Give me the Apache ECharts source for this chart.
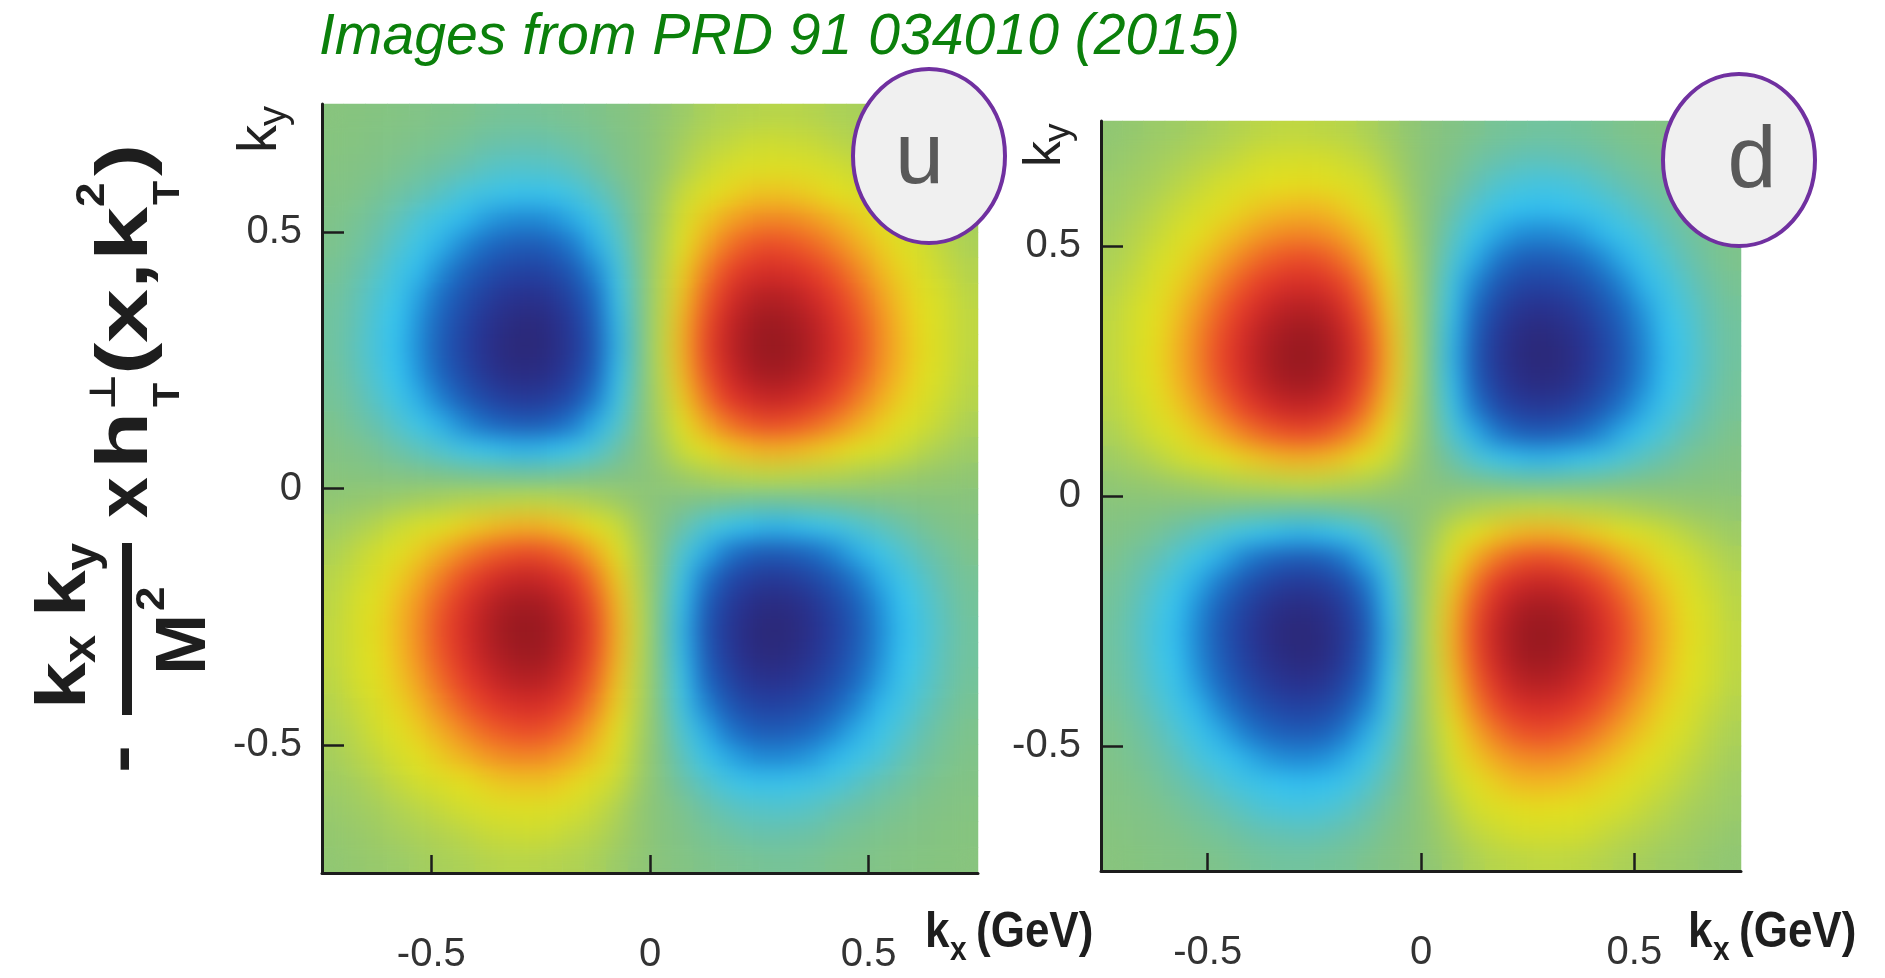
<!DOCTYPE html>
<html>
<head>
<meta charset="utf-8">
<script src="https://cdn.jsdelivr.net/npm/echarts@6/dist/echarts.min.js"></script>
<style>
  html, body { margin: 0; padding: 0; background: #ffffff; }
  #chart { width: 1885px; height: 978px; }
</style>
</head>
<body>
<div id="chart"></div>
<script>
// Transverse-momentum maps of -kx*ky/M^2 * x h1T_perp(x, kT^2) for u and d quarks.
// Cell centres in GeV (30 x 30 grid over -0.75 .. 0.75).
const KX = [-0.725,-0.675,-0.625,-0.575,-0.525,-0.475,-0.425,-0.375,-0.325,-0.275,-0.225,-0.175,-0.125,-0.075,-0.025,
             0.025, 0.075, 0.125, 0.175, 0.225, 0.275, 0.325, 0.375, 0.425, 0.475, 0.525, 0.575, 0.625, 0.675, 0.725];
// Rows of the maps run from the top (ky = 0.725) down to the bottom (ky = -0.725).
const KY_ROWS = [0.725,0.675,0.625,0.575,0.525,0.475,0.425,0.375,0.325,0.275,0.225,0.175,0.125,0.075,0.025,
                 -0.025,-0.075,-0.125,-0.175,-0.225,-0.275,-0.325,-0.375,-0.425,-0.475,-0.525,-0.575,-0.625,-0.675,-0.725];
const AXIS_TICKS = [-0.5, 0, 0.5];

// Relative amplitude (-100 .. 100) of the u-quark map.
const U_MAP = [
  [-2,-3,-4,-5,-7,-9,-10,-12,-13,-13,-12,-11,-9,-5,-2, 2,5,9,11,12,13,13,12,10,9,7,5,4,3,2],
  [-3,-4,-6,-8,-10,-12,-14,-17,-18,-19,-18,-15,-13,-8,-3, 3,8,13,15,18,19,18,17,14,12,10,8,6,4,3],
  [-4,-6,-8,-11,-14,-17,-20,-24,-26,-26,-25,-22,-17,-11,-3, 3,11,17,22,25,26,26,24,20,17,14,11,8,6,4],
  [-6,-8,-12,-16,-20,-25,-30,-34,-37,-38,-37,-32,-25,-17,-6, 6,17,25,32,37,38,37,34,30,25,20,16,12,8,6],
  [-8,-12,-16,-22,-29,-36,-42,-48,-52,-53,-51,-45,-36,-23,-8, 8,23,36,45,51,53,52,48,42,36,29,22,16,12,8],
  [-10,-14,-20,-27,-36,-44,-53,-60,-65,-67,-64,-56,-44,-28,-10, 10,28,44,56,64,67,65,60,53,44,36,27,20,14,10],
  [-12,-17,-24,-33,-42,-53,-63,-71,-77,-79,-76,-67,-53,-34,-12, 12,34,53,67,76,79,77,71,63,53,42,33,24,17,12],
  [-14,-20,-28,-37,-48,-60,-71,-81,-88,-90,-87,-76,-60,-38,-13, 13,38,60,76,87,90,88,81,71,60,48,37,28,20,14],
  [-15,-21,-30,-40,-52,-65,-77,-88,-95,-98,-94,-83,-65,-42,-14, 14,42,65,83,94,98,95,88,77,65,52,40,30,21,15],
  [-15,-22,-31,-41,-53,-67,-79,-90,-98,-100,-96,-85,-67,-43,-15, 15,43,67,85,96,100,98,90,79,67,53,41,31,22,15],
  [-14,-21,-29,-40,-51,-64,-76,-87,-94,-96,-92,-81,-64,-41,-14, 14,41,64,81,92,96,94,87,76,64,51,40,29,21,14],
  [-13,-18,-26,-35,-45,-56,-67,-76,-83,-85,-81,-72,-56,-36,-12, 12,36,56,72,81,85,83,76,67,56,45,35,26,18,13],
  [-10,-15,-20,-27,-36,-44,-53,-60,-65,-67,-64,-56,-44,-28,-10, 10,28,44,56,64,67,65,60,53,44,36,27,20,15,10],
  [-6,-9,-13,-18,-23,-28,-34,-38,-42,-43,-41,-36,-28,-18,-6, 6,18,28,36,41,43,42,38,34,28,23,18,13,9,6],
  [-2,-3,-4,-6,-8,-10,-12,-13,-14,-15,-14,-12,-10,-6,-2, 2,6,10,12,14,15,14,13,12,10,8,6,4,3,2],
  [2,3,4,6,8,10,12,13,14,15,14,12,10,6,2, -2,-6,-10,-12,-14,-15,-14,-13,-12,-10,-8,-6,-4,-3,-2],
  [6,9,13,18,23,28,34,38,42,43,41,36,28,18,6, -6,-18,-28,-36,-41,-43,-42,-38,-34,-28,-23,-18,-13,-9,-6],
  [10,15,20,27,36,44,53,60,65,67,64,56,44,28,10, -10,-28,-44,-56,-64,-67,-65,-60,-53,-44,-36,-27,-20,-15,-10],
  [13,18,26,35,45,56,67,76,83,85,81,72,56,36,12, -12,-36,-56,-72,-81,-85,-83,-76,-67,-56,-45,-35,-26,-18,-13],
  [14,21,29,40,51,64,76,87,94,96,92,81,64,41,14, -14,-41,-64,-81,-92,-96,-94,-87,-76,-64,-51,-40,-29,-21,-14],
  [15,22,31,41,53,67,79,90,98,100,96,85,67,43,15, -15,-43,-67,-85,-96,-100,-98,-90,-79,-67,-53,-41,-31,-22,-15],
  [15,21,30,40,52,65,77,88,95,98,94,83,65,42,14, -14,-42,-65,-83,-94,-98,-95,-88,-77,-65,-52,-40,-30,-21,-15],
  [14,20,28,37,48,60,71,81,88,90,87,76,60,38,13, -13,-38,-60,-76,-87,-90,-88,-81,-71,-60,-48,-37,-28,-20,-14],
  [12,17,24,33,42,53,63,71,77,79,76,67,53,34,12, -12,-34,-53,-67,-76,-79,-77,-71,-63,-53,-42,-33,-24,-17,-12],
  [10,14,20,27,36,44,53,60,65,67,64,56,44,28,10, -10,-28,-44,-56,-64,-67,-65,-60,-53,-44,-36,-27,-20,-14,-10],
  [8,12,16,22,29,36,42,48,52,53,51,45,36,23,8, -8,-23,-36,-45,-51,-53,-52,-48,-42,-36,-29,-22,-16,-12,-8],
  [6,8,12,16,20,25,30,34,37,38,37,32,25,17,6, -6,-17,-25,-32,-37,-38,-37,-34,-30,-25,-20,-16,-12,-8,-6],
  [4,6,8,11,14,17,20,24,26,26,25,22,17,11,3, -3,-11,-17,-22,-25,-26,-26,-24,-20,-17,-14,-11,-8,-6,-4],
  [3,4,6,8,10,12,14,17,18,19,18,15,13,8,3, -3,-8,-13,-15,-18,-19,-18,-17,-14,-12,-10,-8,-6,-4,-3],
  [2,3,4,5,7,9,10,12,13,13,12,11,9,5,2, -2,-5,-9,-11,-12,-13,-13,-12,-10,-9,-7,-5,-4,-3,-2]
];

// Relative amplitude (-100 .. 100) of the d-quark map.
const D_MAP = [
  [2,3,5,6,8,10,12,14,15,15,14,13,10,6,2, -2,-6,-10,-13,-14,-15,-15,-14,-12,-10,-8,-6,-5,-3,-2],
  [3,5,7,9,12,14,17,20,21,22,21,18,15,9,3, -3,-9,-15,-18,-21,-22,-21,-20,-17,-14,-12,-9,-7,-5,-3],
  [5,7,9,13,16,20,24,28,30,31,29,26,20,13,4, -4,-13,-20,-26,-29,-31,-30,-28,-24,-20,-16,-13,-9,-7,-5],
  [6,9,13,17,22,27,33,37,40,41,40,35,27,18,6, -6,-18,-27,-35,-40,-41,-40,-37,-33,-27,-22,-17,-13,-9,-6],
  [8,12,16,22,29,36,42,48,52,53,51,45,36,23,8, -8,-23,-36,-45,-51,-53,-52,-48,-42,-36,-29,-22,-16,-12,-8],
  [10,14,20,27,36,44,53,60,65,67,64,56,44,28,10, -10,-28,-44,-56,-64,-67,-65,-60,-53,-44,-36,-27,-20,-14,-10],
  [12,17,24,33,42,53,63,71,77,79,76,67,53,34,12, -12,-34,-53,-67,-76,-79,-77,-71,-63,-53,-42,-33,-24,-17,-12],
  [14,20,28,37,48,60,71,81,88,90,87,76,60,38,13, -13,-38,-60,-76,-87,-90,-88,-81,-71,-60,-48,-37,-28,-20,-14],
  [15,21,30,40,52,65,77,88,95,98,94,83,65,42,14, -14,-42,-65,-83,-94,-98,-95,-88,-77,-65,-52,-40,-30,-21,-15],
  [15,22,31,41,53,67,79,90,98,100,96,85,67,43,15, -15,-43,-67,-85,-96,-100,-98,-90,-79,-67,-53,-41,-31,-22,-15],
  [14,21,29,40,51,64,76,87,94,96,92,81,64,41,14, -14,-41,-64,-81,-92,-96,-94,-87,-76,-64,-51,-40,-29,-21,-14],
  [13,18,26,35,45,56,67,76,83,85,81,72,56,36,12, -12,-36,-56,-72,-81,-85,-83,-76,-67,-56,-45,-35,-26,-18,-13],
  [10,15,20,27,36,44,53,60,65,67,64,56,44,28,10, -10,-28,-44,-56,-64,-67,-65,-60,-53,-44,-36,-27,-20,-15,-10],
  [6,9,13,18,23,28,34,38,42,43,41,36,28,18,6, -6,-18,-28,-36,-41,-43,-42,-38,-34,-28,-23,-18,-13,-9,-6],
  [2,3,4,6,8,10,12,13,14,15,14,12,10,6,2, -2,-6,-10,-12,-14,-15,-14,-13,-12,-10,-8,-6,-4,-3,-2],
  [-2,-3,-4,-6,-8,-10,-12,-13,-14,-15,-14,-12,-10,-6,-2, 2,6,10,12,14,15,14,13,12,10,8,6,4,3,2],
  [-6,-9,-13,-18,-23,-28,-34,-38,-42,-43,-41,-36,-28,-18,-6, 6,18,28,36,41,43,42,38,34,28,23,18,13,9,6],
  [-10,-15,-20,-27,-36,-44,-53,-60,-65,-67,-64,-56,-44,-28,-10, 10,28,44,56,64,67,65,60,53,44,36,27,20,15,10],
  [-13,-18,-26,-35,-45,-56,-67,-76,-83,-85,-81,-72,-56,-36,-12, 12,36,56,72,81,85,83,76,67,56,45,35,26,18,13],
  [-14,-21,-29,-40,-51,-64,-76,-87,-94,-96,-92,-81,-64,-41,-14, 14,41,64,81,92,96,94,87,76,64,51,40,29,21,14],
  [-15,-22,-31,-41,-53,-67,-79,-90,-98,-100,-96,-85,-67,-43,-15, 15,43,67,85,96,100,98,90,79,67,53,41,31,22,15],
  [-15,-21,-30,-40,-52,-65,-77,-88,-95,-98,-94,-83,-65,-42,-14, 14,42,65,83,94,98,95,88,77,65,52,40,30,21,15],
  [-14,-20,-28,-37,-48,-60,-71,-81,-88,-90,-87,-76,-60,-38,-13, 13,38,60,76,87,90,88,81,71,60,48,37,28,20,14],
  [-12,-17,-24,-33,-42,-53,-63,-71,-77,-79,-76,-67,-53,-34,-12, 12,34,53,67,76,79,77,71,63,53,42,33,24,17,12],
  [-10,-14,-20,-27,-36,-44,-53,-60,-65,-67,-64,-56,-44,-28,-10, 10,28,44,56,64,67,65,60,53,44,36,27,20,14,10],
  [-8,-12,-16,-22,-29,-36,-42,-48,-52,-53,-51,-45,-36,-23,-8, 8,23,36,45,51,53,52,48,42,36,29,22,16,12,8],
  [-6,-9,-13,-17,-22,-27,-33,-37,-40,-41,-40,-35,-27,-18,-6, 6,18,27,35,40,41,40,37,33,27,22,17,13,9,6],
  [-5,-7,-9,-13,-16,-20,-24,-28,-30,-31,-29,-26,-20,-13,-4, 4,13,20,26,29,31,30,28,24,20,16,13,9,7,5],
  [-3,-5,-7,-9,-12,-14,-17,-20,-21,-22,-21,-18,-15,-9,-3, 3,9,15,18,21,22,21,20,17,14,12,9,7,5,3],
  [-2,-3,-5,-6,-8,-10,-12,-14,-15,-15,-14,-13,-10,-6,-2, 2,6,10,13,14,15,15,14,12,10,8,6,5,3,2]
];

// Jet-like colour scale, one stop per 10 units from -100 to 100.
const PALETTE = [
  '#2b2878','#29318e','#2340a0','#1f53b0','#1c6cc4','#2295dc','#34c2f0','#48c4dc','#66c2b0','#7ec38c',
  '#8ac47a',
  '#acd157','#d2dd2e','#e3df1e','#f1bc22','#f39424','#ef6826','#e8402a','#d42c28','#b52024','#961820'
];

const W = 1885, H = 978;
const GRIDS = [
  { left: 322, top: 104, width: 656, height: 769 },   // u
  { left: 1101, top: 121, width: 640, height: 750 }   // d
];
const FONT = '"Liberation Sans", Arial, Helvetica, sans-serif';
const INK = '#222222';

const KY_ASC = KY_ROWS.slice().reverse();

function cells(rows) {
  const out = [];
  rows.forEach((row, r) => row.forEach((v, c) => out.push([c, rows.length - 1 - r, v])));
  return out;
}

const xAxes = [], yAxes = [];
GRIDS.forEach((g, i) => {
  xAxes.push({ type: 'category', gridIndex: i, data: KX.map(String), boundaryGap: true, show: false, position: 'top' });
  xAxes.push({
    type: 'value', gridIndex: i, min: -0.75, max: 0.75, position: 'bottom', zlevel: 3,
    axisLine: { show: true, onZero: false, lineStyle: { color: '#1c1c1c', width: 3 } },
    axisTick: { show: true, inside: true, length: 18, customValues: AXIS_TICKS, lineStyle: { color: '#1c1c1c', width: 2.5 } },
    axisLabel: { show: true, customValues: AXIS_TICKS, margin: 62, fontSize: 40, color: '#333', fontFamily: FONT },
    splitLine: { show: false }
  });
  yAxes.push({ type: 'category', gridIndex: i, data: KY_ASC.map(String), boundaryGap: true, show: false, position: 'right' });
  yAxes.push({
    type: 'value', gridIndex: i, min: -0.75, max: 0.75, position: 'left', zlevel: 3,
    axisLine: { show: true, onZero: false, lineStyle: { color: '#1c1c1c', width: 3 } },
    axisTick: { show: true, inside: true, length: 22, customValues: AXIS_TICKS, lineStyle: { color: '#1c1c1c', width: 2.5 } },
    axisLabel: { show: true, customValues: AXIS_TICKS, margin: 20, fontSize: 40, color: '#333', fontFamily: FONT },
    splitLine: { show: false }
  });
});

function heat(gridIdx, rows, zlevel) {
  return {
    type: 'heatmap', xAxisIndex: gridIdx * 2, yAxisIndex: gridIdx * 2,
    data: cells(rows), zlevel: zlevel, progressive: 0, silent: true,
    emphasis: { disabled: true }, itemStyle: { borderWidth: 0 }
  };
}

// Plain text helper; y is the baseline (converted to the middle line of the em box).
// sx stretches the glyphs along the reading direction about the anchor point.
function txt(x, baseline, text, size, opts) {
  opts = opts || {};
  return {
    type: 'text', x: x, y: baseline - 0.35 * size, scaleX: opts.sx || 1, zlevel: 3, silent: true,
    style: {
      text: text, fill: opts.fill || INK, align: opts.align || 'left', verticalAlign: 'middle',
      font: (opts.style || 'normal') + ' ' + (opts.weight || 'normal') + ' ' + size + 'px ' + (opts.family || FONT)
    }
  };
}
// Group turned a quarter turn counter-clockwise, so its text reads bottom-to-top.
function upright(x, y, children) {
  return { type: 'group', x: x, y: y, rotation: Math.PI / 2, zlevel: 3, silent: true, children: children };
}

const FC = '#1e1e1e';
const B = { weight: 'bold', fill: FC, sx: 1.2 };
const BW = { weight: 'bold', fill: FC, sx: 1.35 };
const BS = { weight: 'bold', fill: FC, sx: 1.1 };
const formula = upright(127, 775, [
  txt(2, 21, '-', 70, B),
  txt(66, -37, 'k', 70, B), txt(112, -29, 'x', 46, BS),
  txt(158, -37, 'k', 70, B), txt(204, -27, 'y', 46, BS),
  { type: 'rect', zlevel: 3, shape: { x: 60, y: -5, width: 172, height: 10 }, style: { fill: FC } },
  txt(100, 83, 'M', 70, { weight: 'bold', fill: FC, sx: 1.05 }), txt(164, 40, '2', 40, BS),
  txt(257, 25, 'x', 72, { weight: 'bold', fill: FC, sx: 1.02 }),
  txt(306, 25, 'h', 72, { weight: 'bold', fill: FC, sx: 1.3 }),
  txt(365, -9, '\u22A5', 36, { weight: 'bold', fill: FC, family: '"DejaVu Sans", sans-serif', sx: 1.1 }),
  txt(368, 55, 'T', 36, BS),
  txt(400, 25, '(', 72, BW), txt(432, 25, 'x', 72, BW), txt(486, 25, ',', 72, BW),
  txt(514, 25, 'k', 72, BW), txt(568, -20, '2', 40, BS), txt(570, 55, 'T', 36, BS),
  txt(599, 25, ')', 72, BW)
]);

// Axis title "k_x (GeV)": condensed bold type.
function kxTitle(x) {
  const o = { weight: 'bold', fill: FC, sx: 0.88 };
  return [txt(x, 951, 'k', 50, o), txt(x + 25, 963, 'x', 34, o), txt(x + 51, 951, '(GeV)', 50, o)];
}

const option = {
  animation: false,
  backgroundColor: '#ffffff',
  grid: GRIDS.map(g => Object.assign({ outerBoundsMode: 'none', containLabel: false, show: false }, g)),
  xAxis: xAxes,
  yAxis: yAxes,
  visualMap: {
    type: 'continuous', show: false, min: -100, max: 100, dimension: 2,
    seriesIndex: [0, 1, 2, 3], inRange: { color: PALETTE }
  },
  series: [
    heat(0, U_MAP, 0), heat(1, D_MAP, 0),   // crisp base layer
    heat(0, U_MAP, 1), heat(1, D_MAP, 2)    // softened layers on top
  ],
  graphic: { elements: [
    txt(319, 58, 'Images from PRD 91 034010 (2015)', 58, { style: 'italic', fill: '#0b800b', sx: 0.985 }),
    upright(280, 153, [txt(0, 0, 'k', 56), txt(27, 9, 'y', 40)]),
    upright(1064, 167, [txt(0, 0, 'k', 52), txt(25, 8, 'y', 37)]),
    ...kxTitle(925),
    ...kxTitle(1688),
    formula,
    { type: 'ellipse', zlevel: 3, silent: true, shape: { cx: 929, cy: 156, rx: 76, ry: 87 },
      style: { fill: '#f0f0f0', stroke: '#7030a0', lineWidth: 4 } },
    txt(919.5, 190, 'u', 88, { align: 'center', fill: '#595959' }),
    { type: 'ellipse', zlevel: 3, silent: true, shape: { cx: 1739, cy: 160, rx: 76, ry: 86 },
      style: { fill: '#f0f0f0', stroke: '#7030a0', lineWidth: 4 } },
    txt(1752, 194, 'd', 88, { align: 'center', fill: '#595959' })
  ] }
};

const chart = echarts.init(document.getElementById('chart'), null, { renderer: 'canvas' });
chart.setOption(option);

// Smooth the colour field: blur the upper heatmap layers and clip them to their plot areas.
function soften() {
  const root = document.getElementById('chart');
  let done = true;
  [[1, GRIDS[0]], [2, GRIDS[1]]].forEach(([z, g]) => {
    const cv = root.querySelector('canvas[data-zr-dom-id="zr_' + z + '"]');
    if (!cv) { done = false; return; }
    cv.style.filter = 'blur(11px)';
    cv.style.clipPath = 'inset(' + g.top + 'px ' + (W - g.left - g.width) + 'px ' +
      (H - g.top - g.height) + 'px ' + g.left + 'px)';
  });
  return done;
}
chart.on('finished', soften);
(function retry(n) { if (!soften() && n > 0) setTimeout(() => retry(n - 1), 30); })(60);
</script>
</body>
</html>
